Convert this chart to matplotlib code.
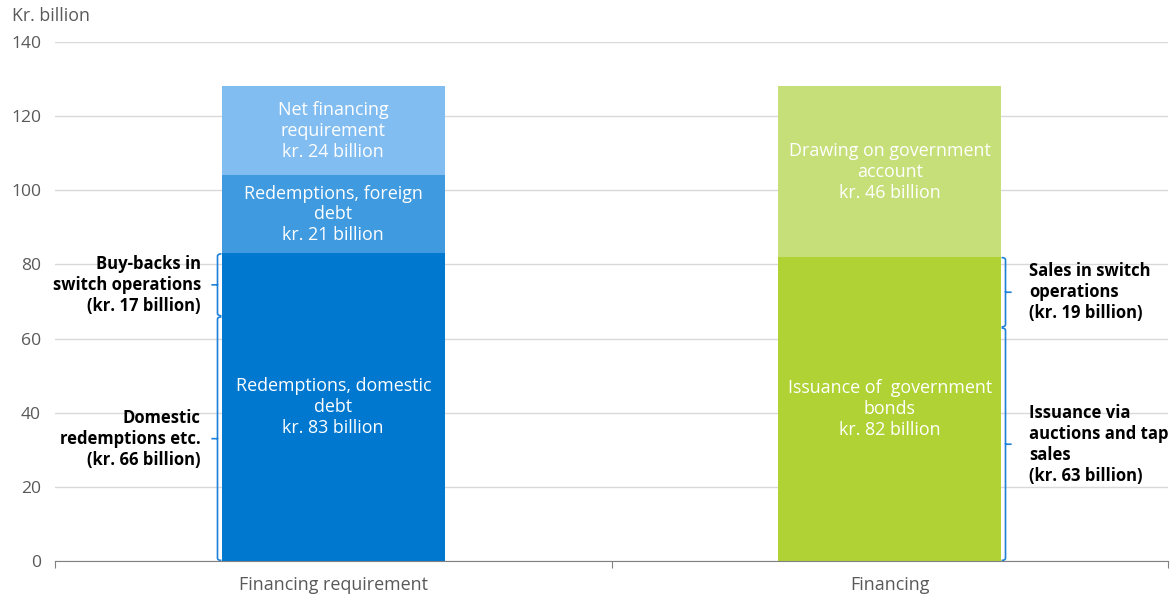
import matplotlib
matplotlib.use("Agg")
import matplotlib.pyplot as plt
from matplotlib.path import Path
from matplotlib.patches import PathPatch

plt.rcParams['font.family'] = ['Open Sans', 'DejaVu Sans']

categories = ["Financing requirement", "Financing"]
left_values = [83, 21, 24]
left_labels = ["Redemptions, domestic\ndebt\nkr. 83 billion",
               "Redemptions, foreign\ndebt\nkr. 21 billion",
               "Net financing\nrequirement\nkr. 24 billion"]
right_values = [82, 46]
right_labels = ["Issuance of  government\nbonds\nkr. 82 billion",
                "Drawing on government\naccount\nkr. 46 billion"]
left_brackets = [66, 17]
left_bracket_labels = ["Domestic\nredemptions etc.\n(kr. 66 billion)",
                       "Buy-backs in\nswitch operations\n(kr. 17 billion)"]
right_brackets = [63, 19]
right_bracket_labels = ["Issuance via\nauctions and tap\nsales\n(kr. 63 billion)",
                        "Sales in switch\noperations\n(kr. 19 billion)"]
yticks = [0, 20, 40, 60, 80, 100, 120, 140]

left_colors = ["#0078D0", "#3F9ADF", "#82BDF1"]
right_colors = ["#B1D234", "#C6DF79"]
bracket_color = "#1E80D8"

fig = plt.figure(figsize=(11.74, 5.96), dpi=100)
ax = fig.add_axes([55/1174, 1-561/596, (1168-55)/1174, (561-42)/596])
ax.set_xlim(-0.5, 1.5)
ax.set_ylim(0, 140)

w = 0.4
bottom = 0
for v, lab, c in zip(left_values, left_labels, left_colors):
    ax.bar(0, v, width=w, bottom=bottom, color=c, zorder=3)
    ax.text(0, bottom + v/2, lab, ha='center', va='center', color='white',
            fontsize=12.9, linespacing=1.2, zorder=4)
    bottom += v
bottom = 0
for v, lab, c in zip(right_values, right_labels, right_colors):
    ax.bar(1, v, width=w, bottom=bottom, color=c, zorder=3)
    ax.text(1, bottom + v/2, lab, ha='center', va='center', color='white',
            fontsize=12.9, linespacing=1.2, zorder=4)
    bottom += v


def brace(x_edge, y0, y1, direction):
    d = direction
    xv = x_edge + d * 0.007
    xt = x_edge + d * 0.018
    r = 0.8
    ym = (y0 + y1) / 2
    verts = [(x_edge, y0 + 0.15), (xv, y0 + 0.15), (xv, y0 + r),
             (xv, ym - 0.2), (xv, ym), (xt, ym), (xv, ym), (xv, ym + 0.2),
             (xv, y1 - r), (xv, y1 - 0.15), (x_edge, y1 - 0.15)]
    codes = [Path.MOVETO, Path.CURVE3, Path.CURVE3, Path.LINETO,
             Path.LINETO, Path.LINETO, Path.MOVETO, Path.LINETO,
             Path.LINETO, Path.CURVE3, Path.CURVE3]
    ax.add_patch(PathPatch(Path(verts, codes), fill=False, ec=bracket_color,
                           lw=1.2, zorder=5, clip_on=False))


y = 0
for v, lab in zip(left_brackets, left_bracket_labels):
    brace(-0.2 - 0.001, y, y + v, -1)
    ax.text(-0.238, y + v/2, lab, ha='right', va='center', fontsize=12,
            fontweight='bold', color='black', linespacing=1.22, zorder=6)
    y += v
y = 0
for v, lab in zip(right_brackets, right_bracket_labels):
    brace(1.2 + 0.001, y, y + v, 1)
    ax.text(1.251, y + v/2, lab, ha='left', va='center', fontsize=12,
            fontweight='bold', color='black', linespacing=1.22, zorder=6)
    y += v

ax.set_yticks(yticks)
ax.yaxis.grid(True, color='#D9D9D9', lw=1, zorder=0)
ax.tick_params(axis='y', length=0, labelsize=12.6, labelcolor='#595959', pad=10)
ax.set_xticks([-0.5, 0.5, 1.5])
ax.set_xticklabels([])
ax.set_xticks([0, 1], minor=True)
ax.set_xticklabels(categories, minor=True)
ax.tick_params(axis='x', which='major', length=5, color='#808080', direction='out')
ax.tick_params(axis='x', which='minor', length=0, labelsize=12.9,
               labelcolor='#595959', pad=11)
for s in ['left', 'right', 'top']:
    ax.spines[s].set_visible(False)
ax.spines['bottom'].set_color('#808080')
ax.spines['bottom'].set_zorder(6)

fig.text(12/1174, 1-16/596, "Kr. billion", ha='left', va='center',
         fontsize=12.8, color='#595959')

fig.savefig("out.png", dpi=100)
